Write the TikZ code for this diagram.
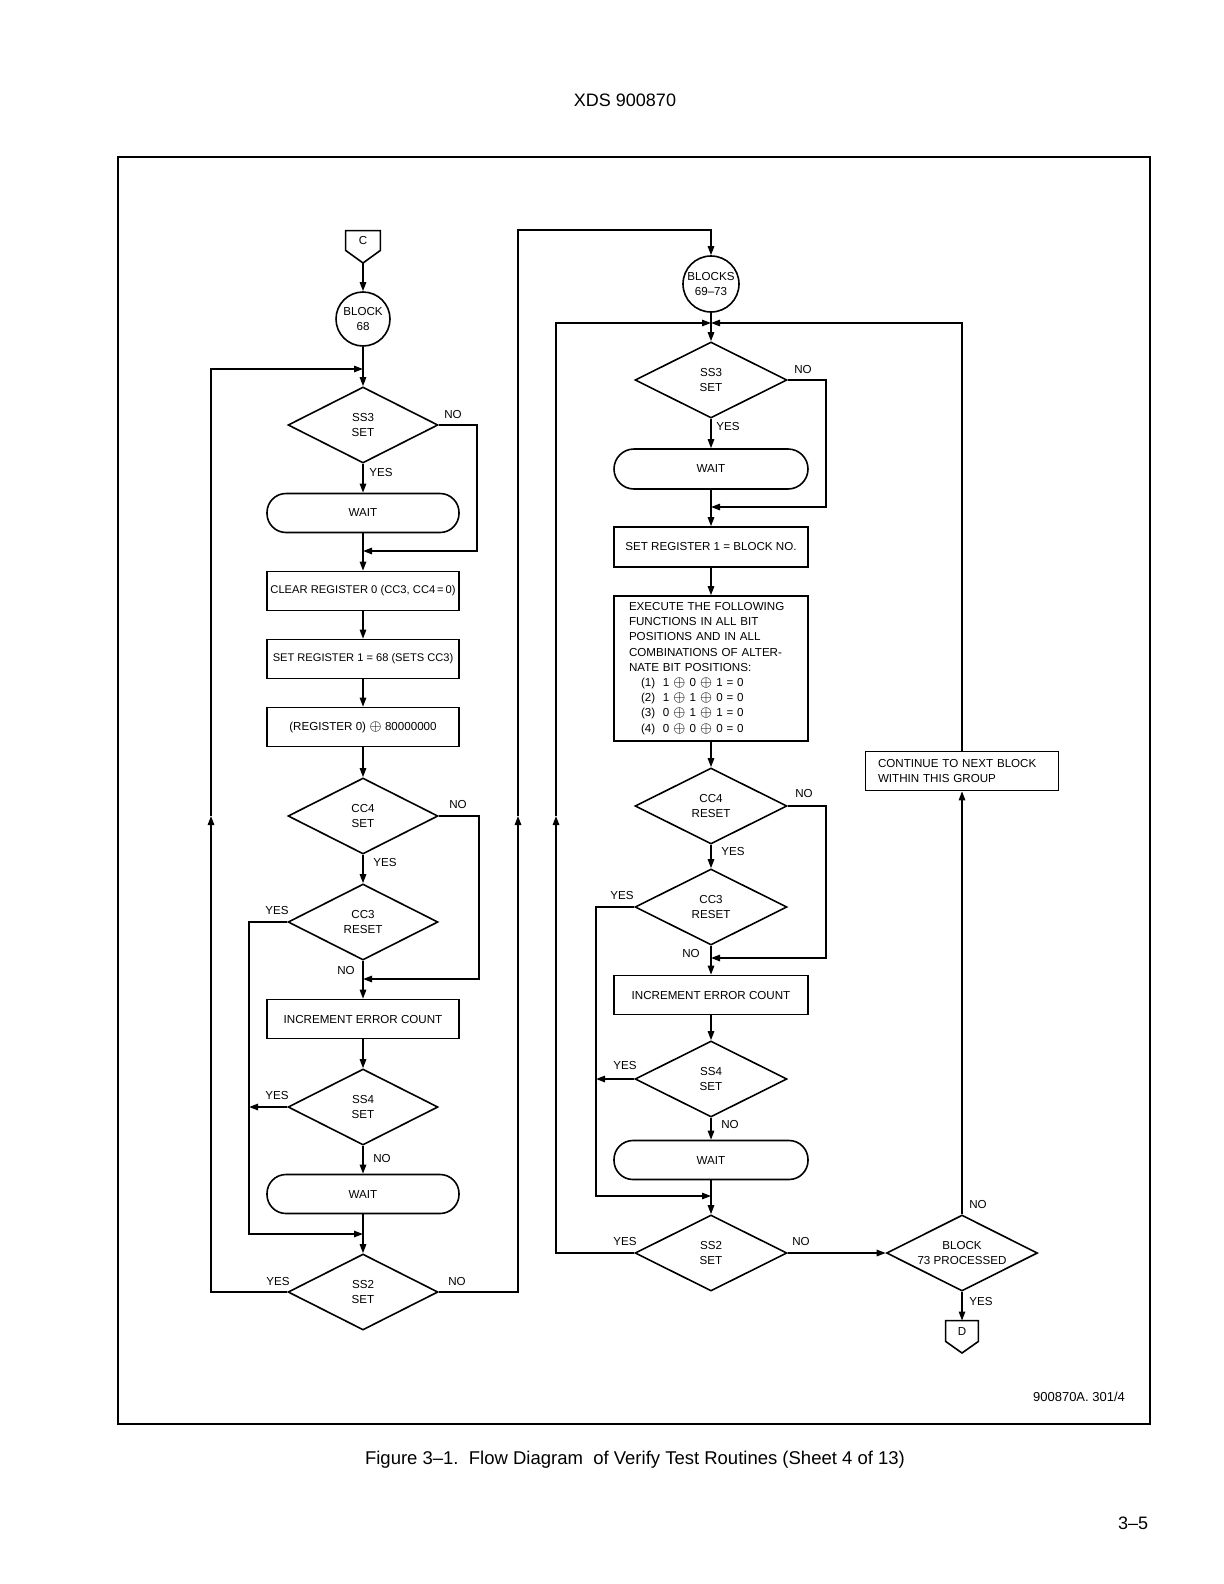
\documentclass[tikz,border=0pt]{standalone}
\usepackage{fontspec}
\setmainfont{Liberation Sans}
\usetikzlibrary{shapes.geometric,arrows.meta}
\newcommand{\bigxor}{{\fontsize{7.2}{7}\selectfont$\oplus$}}
\newcommand{\midxor}{{\fontsize{7.2}{7}\selectfont$\oplus$}}
\begin{document}
\begin{tikzpicture}[x=0.5pt,y=-0.5pt,
  txt/.style={font=\fontsize{5.8}{7.6}\selectfont, align=center, inner sep=0pt},
  dec/.style={txt, draw, line width=0.8pt, diamond, aspect=2, minimum width=75pt, minimum height=38pt},
  proc/.style={txt, draw, line width=0.8pt, rectangle, minimum width=96pt, minimum height=19.5pt},
  term/.style={txt, draw, line width=0.8pt, rectangle, rounded corners=9.5pt, minimum width=96pt, minimum height=19.5pt},
  blk/.style={txt, draw, line width=0.8pt, circle},
  lbl/.style={txt},
  ln/.style={line width=0.8pt},
  flow/.style={ln, -{Triangle[length=4.5pt,width=3.2pt]}},
  big/.style={font=\fontsize{9}{11}\selectfont, inner sep=0pt},
]
\fill[white] (0,0) rectangle (1224,1584);
\useasboundingbox (0,0) rectangle (1224,1584);

\node[big] (hdr) at (625,100) {XDS 900870};
\draw[line width=1.3pt] (118,157) rectangle (1150,1424);

% ---------------- left column ----------------
\node[txt, minimum width=17pt, minimum height=9.5pt] (C) at (363,240.5) {C};
\coordinate (Ctip) at (363,263);
\draw[ln] (C.south west) -- (C.north west) -- (C.north east) -- (C.south east) -- (Ctip) -- cycle;
\node[blk, minimum size=27pt] (b68) at (363,319) {BLOCK\\68};
\coordinate (j1) at (363,369);
\node[dec] (d1) at (363,425) {SS3\\SET};
\node[term] (w1) at (363,513) {WAIT};
\coordinate (j2) at (363,551);
\node[proc, font=\fontsize{5.6}{7.6}\selectfont] (r1) at (363,591) {CLEAR REGISTER 0 (CC3, CC4\,=\,0)};
\node[proc, font=\fontsize{5.55}{7.6}\selectfont] (r2) at (363,659) {SET REGISTER 1 = 68 (SETS CC3)};
\node[proc] (r3) at (363,727) {(REGISTER 0) \midxor{} 80000000};
\node[dec] (d2) at (363,816) {CC4\\SET};
\node[dec] (d3) at (363,922) {CC3\\RESET};
\coordinate (j3) at (363,979);
\node[proc] (r4) at (363,1019) {INCREMENT ERROR COUNT};
\node[dec] (d4) at (363,1107) {SS4\\SET};
\node[term] (w2) at (363,1194) {WAIT};
\coordinate (j4) at (363,1234);
\node[dec] (d5) at (363,1292) {SS2\\SET};

\draw[flow] (Ctip) -- (b68);
\draw[flow] (b68) -- (d1);
\draw[flow] (d1) -- (w1);
\draw[flow] (w1) -- (r1);
\draw[flow] (r1) -- (r2);
\draw[flow] (r2) -- (r3);
\draw[flow] (r3) -- (d2);
\draw[flow] (d2) -- (d3);
\draw[flow] (d3) -- (r4);
\draw[flow] (r4) -- (d4);
\draw[flow] (d4) -- (w2);
\draw[flow] (w2) -- (d5);

\coordinate (k1) at (477,551);
\draw[flow] (d1.east) -| (k1) -- (j2);
\coordinate (k2) at (479,979);
\draw[flow] (d2.east) -| (k2) -- (j3);
\coordinate (k3) at (249,1234);
\draw[flow] (d3.west) -| (k3) -- (j4);
\coordinate (k4) at (249,1107);
\draw[flow] (d4.west) -- (k4);
\coordinate (k5) at (211,816);
\coordinate (k6) at (211,369);
\draw[flow] (d5.west) -| (k5);
\draw[flow] (k5) -- (k6) -- (j1);
\coordinate (k7) at (518,816);
\coordinate (k8) at (518,230);
\coordinate (k9) at (711,230);
\draw[flow] (d5.east) -| (k7);

\node[lbl] (l1) at (453,415) {NO};
\node[lbl] (l2) at (381,473) {YES};
\node[lbl] (l3) at (458,804) {NO};
\node[lbl] (l4) at (385,862) {YES};
\node[lbl] (l5) at (277,910) {YES};
\node[lbl] (l6) at (346,970) {NO};
\node[lbl] (l7) at (277,1095) {YES};
\node[lbl] (l8) at (382,1158) {NO};
\node[lbl] (l9) at (278,1281) {YES};
\node[lbl] (l10) at (457,1281) {NO};

% ---------------- right column ----------------
\node[blk, minimum size=28pt] (b69) at (711,284) {BLOCKS\\69--73};
\draw[flow] (k7) -- (k8) -- (k9) -- (b69);
\coordinate (j5) at (711,323);
\node[dec, minimum width=76pt] (e1) at (711,380) {SS3\\SET};
\node[term, minimum width=97pt, minimum height=20pt, rounded corners=10pt] (e2) at (711,469) {WAIT};
\coordinate (j6) at (711,507);
\node[proc, minimum width=97pt, minimum height=20pt] (e3) at (711,547) {SET REGISTER 1 = BLOCK NO.};
\node[proc, minimum width=97pt, minimum height=72.5pt, align=left, text width=82pt] (e4) at (711,668.5)
 {EXECUTE THE FOLLOWING\\FUNCTIONS IN ALL BIT\\POSITIONS AND IN ALL\\COMBINATIONS OF ALTER-\\NATE BIT POSITIONS:\\
  \hspace*{6pt}(1)\ \ 1 \bigxor{} 0 \bigxor{} 1 = 0\\
  \hspace*{6pt}(2)\ \ 1 \bigxor{} 1 \bigxor{} 0 = 0\\
  \hspace*{6pt}(3)\ \ 0 \bigxor{} 1 \bigxor{} 1 = 0\\
  \hspace*{6pt}(4)\ \ 0 \bigxor{} 0 \bigxor{} 0 = 0};
\node[dec, minimum width=76pt] (e5) at (711,806) {CC4\\RESET};
\node[dec, minimum width=76pt] (e6) at (711,907) {CC3\\RESET};
\coordinate (j7) at (711,958);
\node[proc, minimum width=97pt] (e7) at (711,995) {INCREMENT ERROR COUNT};
\node[dec, minimum width=76pt] (e8) at (711,1079) {SS4\\SET};
\node[term, minimum width=97pt] (e9) at (711,1160) {WAIT};
\coordinate (j8) at (711,1196);
\node[dec, minimum width=76pt] (e10) at (711,1253) {SS2\\SET};
\node[dec, minimum width=75.5pt] (f1) at (962,1253) {BLOCK\\73 PROCESSED};
\node[proc, minimum width=96.5pt, align=left, text width=84pt] (f2) at (962,771) {CONTINUE TO NEXT BLOCK\\WITHIN THIS GROUP};
\node[txt, minimum width=16pt, minimum height=10pt] (D) at (962,1331) {D};
\coordinate (Dtip) at (962,1353);
\draw[ln] (D.south west) -- (D.north west) -- (D.north east) -- (D.south east) -- (Dtip) -- cycle;

\draw[flow] (b69) -- (e1);
\coordinate (m1) at (556,816);
\coordinate (m2) at (556,323);
\draw[flow] (e10.west) -| (m1);
\draw[flow] (m1) -- (m2) -- (j5);
\coordinate (m3) at (962,323);
\draw[flow] (f2.north) -- (m3) -- (j5);
\draw[flow] (e1) -- (e2);
\coordinate (m4) at (826,507);
\draw[flow] (e1.east) -| (m4) -- (j6);
\draw[flow] (e2) -- (e3);
\draw[flow] (e3) -- (e4);
\draw[flow] (e4) -- (e5);
\coordinate (m5) at (826,958);
\draw[flow] (e5.east) -| (m5) -- (j7);
\draw[flow] (e5) -- (e6);
\draw[flow] (e6) -- (e7);
\coordinate (m6) at (596,1196);
\draw[flow] (e6.west) -| (m6) -- (j8);
\draw[flow] (e7) -- (e8);
\coordinate (m7) at (596,1079);
\draw[flow] (e8.west) -- (m7);
\draw[flow] (e8) -- (e9);
\draw[flow] (e9) -- (e10);
\draw[flow] (e10.east) -- (f1.west);
\draw[flow] (f1.north) -- (f2.south);
\draw[flow] (f1.south) -- (D.north);

\node[lbl] (n1) at (803,370) {NO};
\node[lbl] (n2) at (728,427) {YES};
\node[lbl] (n3) at (804,793) {NO};
\node[lbl] (n4) at (733,851) {YES};
\node[lbl] (n5) at (622,895) {YES};
\node[lbl] (n6) at (691,953) {NO};
\node[lbl] (n7) at (625,1065) {YES};
\node[lbl] (n8) at (730,1124) {NO};
\node[lbl] (n9) at (625,1241) {YES};
\node[lbl] (n10) at (801,1241) {NO};
\node[lbl] (n11) at (978,1204) {NO};
\node[lbl] (n12) at (981,1301) {YES};

% ---------------- footer ----------------
\node[font=\fontsize{6.5}{8}\selectfont, inner sep=0pt] (ref) at (1079,1397) {900870A. 301/4};
\node[big, font=\fontsize{9.25}{11}\selectfont] (cap) at (635,1460) {Figure 3--1.\ \ Flow Diagram\ \ of Verify Test Routines (Sheet 4 of 13)};
\node[big] (pg) at (1133,1523) {3--5};
\end{tikzpicture}
\end{document}
